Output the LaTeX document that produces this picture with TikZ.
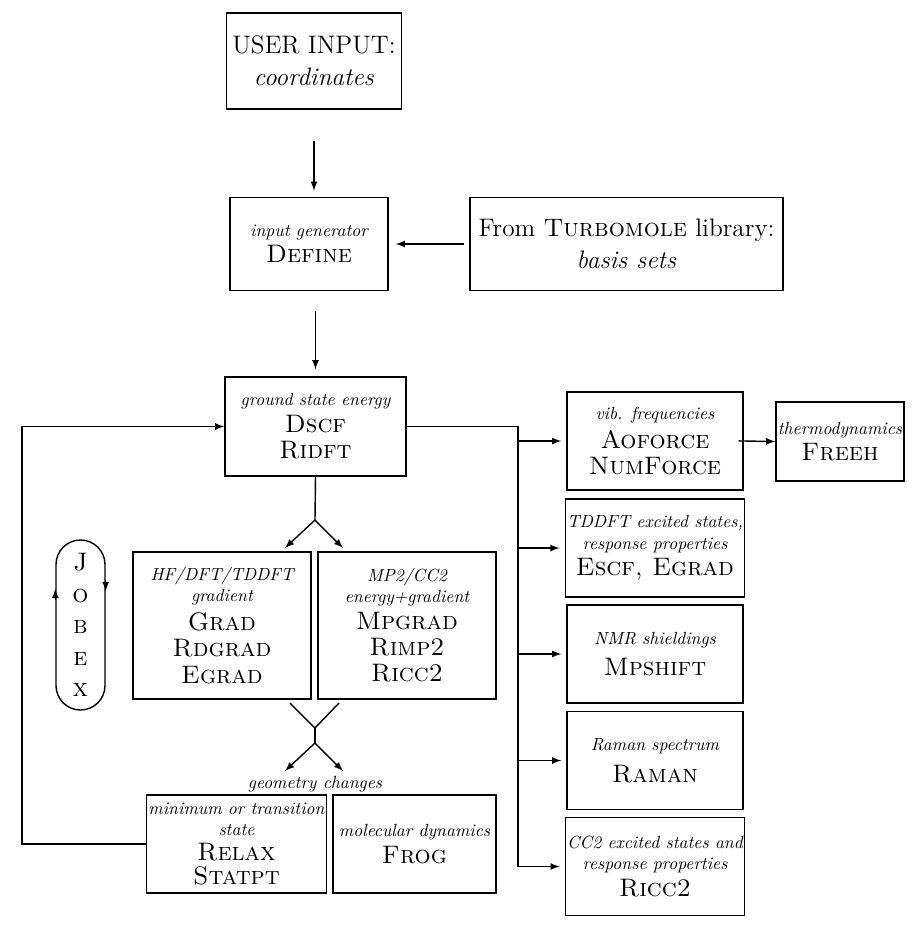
\documentclass[tikz,border=0pt]{standalone}
\usetikzlibrary{positioning}
\tikzset{
  box/.style={draw, thick, align=center, inner sep=1pt},
  fork/.style={thick},
  >=latex
}
\newcommand{\desc}[1]{{\normalsize\itshape #1}}
\newcommand{\prog}[1]{{\Large\textsc{#1}}}
\begin{document}
\begin{tikzpicture}
\useasboundingbox (0,0) rectangle (18.36,-18.52);
% input and set-up
\node [box, minimum width=3.5cm, minimum height=1.92cm, font=\Large] (user) at (6.28,-1.22) {USER INPUT:\\ \textit{coordinates}};
\node [box, minimum width=3.16cm, minimum height=1.86cm] (define) at (6.18,-4.88) {\desc{input generator}\\[3pt] \prog{Define}};
\node [box, minimum width=6.26cm, minimum height=1.86cm, font=\Large] (lib) at (12.53,-4.88) {From \textsc{Turbomole} library:\\ \textit{basis sets}};
\node [box, minimum width=3.62cm, minimum height=1.98cm] (dscf) at (6.31,-8.53) {\desc{ground state energy}\\[3pt] \prog{Dscf}\\[3pt] \prog{Ridft}};
%
\draw [thick,->,shorten <=0.62cm,shorten >=0.12cm] (user.south) -- (user.south |- define.north);
\draw [thick,->,shorten <=0.4cm,shorten >=0.14cm] (dscf.north |- define.south) -- (dscf.north);
\draw [thick,->,shorten <=0.1cm,shorten >=0.14cm] (lib) -- (define);
% gradients
\node [box, minimum width=3.56cm, minimum height=2.94cm] (grad) at (4.44,-12.51) {\desc{HF/DFT/TDDFT}\\ \desc{gradient}\\[3pt] \prog{Grad}\\[3pt] \prog{Rdgrad}\\[3pt] \prog{Egrad}};
\node [box, minimum width=3.56cm, minimum height=2.94cm] (mpgrad) at (8.14,-12.51) {\desc{MP2/CC2}\\ \desc{energy+gradient}\\[3pt] \prog{Mpgrad}\\[3pt] \prog{Rimp2}\\[3pt] \prog{Ricc2}};
\coordinate (f1) at (6.30,-10.40);
\draw [fork] (dscf.south) -- (f1);
\draw [fork,->] (f1) -- (5.70,-10.96);
\draw [fork,->] (f1) -- (6.86,-10.96);
% geometry changes
\coordinate (f2) at (6.30,-14.56);
\coordinate (f3) at (6.30,-14.86);
\draw [fork] (5.80,-14.06) -- (f2) -- (6.78,-14.06);
\draw [fork] (f2) -- (f3);
\draw [fork,->] (f3) -- (5.70,-15.42);
\draw [fork,->] (f3) -- (6.86,-15.42);
\node (geo) at (6.30,-15.68) {\desc{geometry changes}};
\node [box, minimum width=3.54cm, minimum height=1.96cm] (relax) at (4.73,-16.88) {\desc{minimum or transition}\\ \desc{state}\\[2pt] \prog{Relax}\\[2pt] \prog{Statpt}};
\node [box, minimum width=3.26cm, minimum height=1.96cm] (frog) at (8.29,-16.88) {\desc{molecular dynamics}\\[3pt] \prog{Frog}};
% jobex loop
\coordinate (loop) at (0.44,0);
\draw [thick,->] (relax.west) -- (relax.west -| loop) |- (dscf.west);
\node [draw, thick, rounded corners=0.49cm, minimum width=0.98cm, minimum height=3.4cm, align=center, font=\Large\scshape] (jobex) at (1.61,-12.50) {J\\o\\b\\e\\x};
\draw [thick,->] ([yshift=0.5cm]jobex.west) -- ([yshift=0.72cm]jobex.west);
\draw [thick,->] ([yshift=0.9cm]jobex.east) -- ([yshift=0.68cm]jobex.east);
% properties
\node [box, minimum width=3.52cm, minimum height=1.96cm] (vib) at (13.10,-8.82) {\desc{vib. frequencies}\\[3pt] \prog{Aoforce}\\[3pt] \prog{NumForce}};
\node [box, minimum width=3.52cm, minimum height=1.96cm] (tddft) at (13.10,-10.96) {\desc{TDDFT excited states,}\\ \desc{response properties}\\[3pt] \prog{Escf, Egrad}};
\node [box, minimum width=3.52cm, minimum height=1.96cm] (nmr) at (13.10,-13.08) {\desc{NMR shieldings}\\[6pt] \prog{Mpshift}};
\node [box, minimum width=3.52cm, minimum height=1.96cm] (raman) at (13.10,-15.21) {\desc{Raman spectrum}\\[6pt] \prog{Raman}};
\node [box, minimum width=3.52cm, minimum height=1.96cm] (cc2) at (13.10,-17.33) {\desc{CC2 excited states and}\\ \desc{response properties}\\[3pt] \prog{Ricc2}};
\node [box, minimum width=2.56cm, minimum height=1.58cm] (freeh) at (16.80,-8.83) {\desc{thermodynamics}\\[3pt] \prog{Freeh}};
%
\coordinate (bus) at (10.36,0);
\draw [thick] (dscf.east) -- (dscf.east -| bus) -- (cc2 -| bus);
\foreach \n in {vib,tddft,nmr,raman,cc2}
  \draw [thick,->,shorten >=0.1cm] (\n -| bus) -- (\n.west);
\draw [thick,->,shorten <=-0.1cm] (vib.east) -- (freeh.west);
\end{tikzpicture}
\end{document}
